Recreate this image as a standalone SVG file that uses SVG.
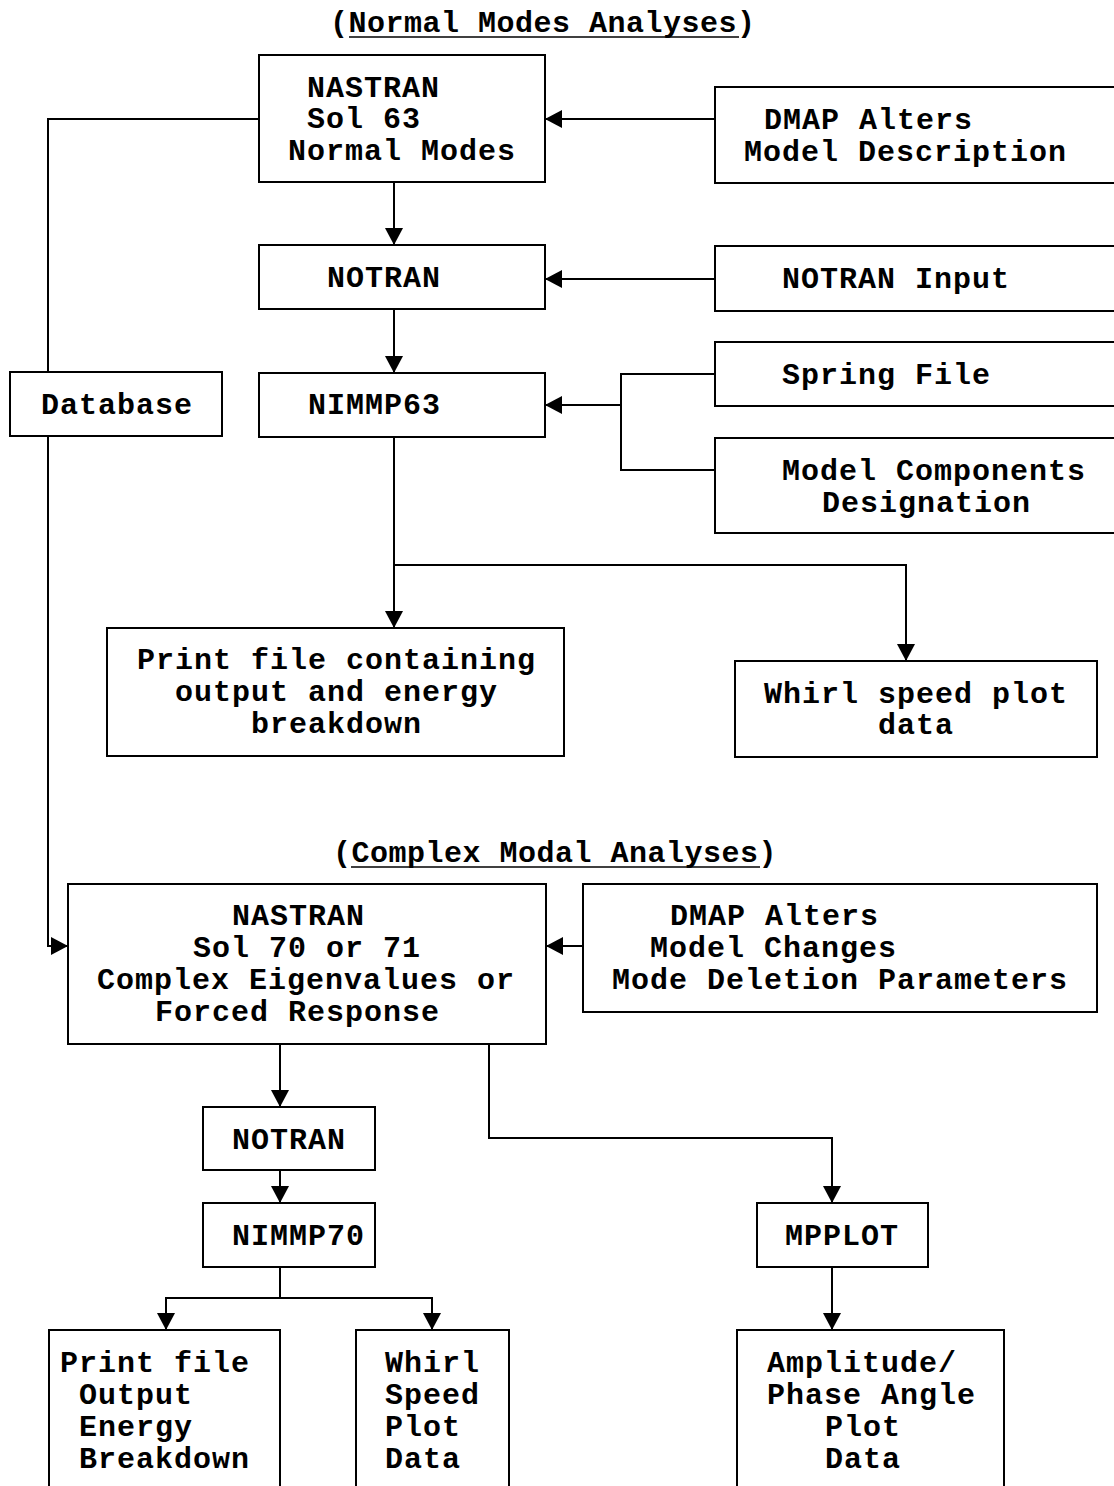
<svg xmlns="http://www.w3.org/2000/svg" width="1114" height="1486" viewBox="0 0 1114 1486">
<defs>
<marker id="ah" markerWidth="18" markerHeight="18" refX="17" refY="9" orient="auto" markerUnits="userSpaceOnUse">
<path d="M0,0 L17,9 L0,18 Z" fill="#000"/>
</marker>
<style>
.box{fill:#fff;stroke:#000;stroke-width:2}
.t{font-family:"Liberation Mono","Courier New",monospace;font-weight:bold;font-size:30px;letter-spacing:1px;fill:#000}
.tt{letter-spacing:0.5px}
.c{fill:none;stroke:#000;stroke-width:2}
.ul{stroke:#000;stroke-width:1.5}
</style>
</defs>
<rect width="1114" height="1486" fill="#fff"/>

<g id="titles">
<text class="t tt" x="330" y="32">(Normal Modes Analyses)</text>
<line class="ul" x1="349" y1="37" x2="739" y2="37"/>
<text class="t tt" x="333" y="862">(Complex Modal Analyses)</text>
<line class="ul" x1="351" y1="867" x2="760" y2="867"/>
</g>

<g id="connectors">
<path class="c" d="M715,119 H545" marker-end="url(#ah)"/>
<path class="c" d="M394,182 V245" marker-end="url(#ah)"/>
<path class="c" d="M715,279 H545" marker-end="url(#ah)"/>
<path class="c" d="M394,309 V373" marker-end="url(#ah)"/>
<path class="c" d="M715,374 H621 V470 H715"/>
<path class="c" d="M621,405 H545" marker-end="url(#ah)"/>
<path class="c" d="M259,119 H48 V372"/>
<path class="c" d="M48,436 V946 H68" marker-end="url(#ah)"/>
<path class="c" d="M394,437 V628" marker-end="url(#ah)"/>
<path class="c" d="M394,565 H906 V661" marker-end="url(#ah)"/>
<path class="c" d="M583,946 H546" marker-end="url(#ah)"/>
<path class="c" d="M280,1044 V1107" marker-end="url(#ah)"/>
<path class="c" d="M280,1170 V1203" marker-end="url(#ah)"/>
<path class="c" d="M280,1267 V1298"/>
<path class="c" d="M280,1298 H166 V1330" marker-end="url(#ah)"/>
<path class="c" d="M280,1298 H432 V1330" marker-end="url(#ah)"/>
<path class="c" d="M489,1044 V1138 H832 V1203" marker-end="url(#ah)"/>
<path class="c" d="M832,1267 V1330" marker-end="url(#ah)"/>
</g>

<g id="nastran63">
<rect class="box" x="259" y="55" width="286" height="127"/>
<text class="t" x="307" y="97">NASTRAN</text>
<text class="t" x="307" y="128">Sol 63</text>
<text class="t" x="288" y="160">Normal Modes</text>
</g>
<g id="dmap1">
<rect class="box" x="715" y="87" width="410" height="96"/>
<text class="t" x="764" y="129">DMAP Alters</text>
<text class="t" x="744" y="161">Model Description</text>
</g>
<g id="notran1">
<rect class="box" x="259" y="245" width="286" height="64"/>
<text class="t" x="327" y="287">NOTRAN</text>
</g>
<g id="notranInput">
<rect class="box" x="715" y="246" width="410" height="65"/>
<text class="t" x="782" y="288">NOTRAN Input</text>
</g>
<g id="nimmp63">
<rect class="box" x="259" y="373" width="286" height="64"/>
<text class="t" x="308" y="414">NIMMP63</text>
</g>
<g id="springFile">
<rect class="box" x="715" y="342" width="410" height="64"/>
<text class="t" x="782" y="384">Spring File</text>
</g>
<g id="modelComponents">
<rect class="box" x="715" y="438" width="410" height="95"/>
<text class="t" x="782" y="480">Model Components</text>
<text class="t" x="822" y="512">Designation</text>
</g>
<g id="database">
<rect class="box" x="10" y="372" width="212" height="64"/>
<text class="t" x="41" y="414">Database</text>
</g>
<g id="printFile1">
<rect class="box" x="107" y="628" width="457" height="128"/>
<text class="t" x="137" y="669">Print file containing</text>
<text class="t" x="175" y="701">output and energy</text>
<text class="t" x="251" y="733">breakdown</text>
</g>
<g id="whirl1">
<rect class="box" x="735" y="661" width="362" height="96"/>
<text class="t" x="764" y="703">Whirl speed plot</text>
<text class="t" x="878" y="734">data</text>
</g>
<g id="nastran70">
<rect class="box" x="68" y="884" width="478" height="160"/>
<text class="t" x="232" y="925">NASTRAN</text>
<text class="t" x="193" y="957">Sol 70 or 71</text>
<text class="t" x="97" y="989">Complex Eigenvalues or</text>
<text class="t" x="155" y="1021">Forced Response</text>
</g>
<g id="dmap2">
<rect class="box" x="583" y="884" width="514" height="128"/>
<text class="t" x="670" y="925">DMAP Alters</text>
<text class="t" x="650" y="957">Model Changes</text>
<text class="t" x="612" y="989">Mode Deletion Parameters</text>
</g>
<g id="notran2">
<rect class="box" x="203" y="1107" width="172" height="63"/>
<text class="t" x="232" y="1149">NOTRAN</text>
</g>
<g id="nimmp70">
<rect class="box" x="203" y="1203" width="172" height="64"/>
<text class="t" x="232" y="1245">NIMMP70</text>
</g>
<g id="mpplot">
<rect class="box" x="757" y="1203" width="171" height="64"/>
<text class="t" x="785" y="1245">MPPLOT</text>
</g>
<g id="printFile2">
<rect class="box" x="49" y="1330" width="231" height="170"/>
<text class="t" x="60" y="1372">Print file</text>
<text class="t" x="79" y="1404">Output</text>
<text class="t" x="79" y="1436">Energy</text>
<text class="t" x="79" y="1468">Breakdown</text>
</g>
<g id="whirl2">
<rect class="box" x="356" y="1330" width="153" height="170"/>
<text class="t" x="385" y="1372">Whirl</text>
<text class="t" x="385" y="1404">Speed</text>
<text class="t" x="385" y="1436">Plot</text>
<text class="t" x="385" y="1468">Data</text>
</g>
<g id="amplitude">
<rect class="box" x="737" y="1330" width="267" height="170"/>
<text class="t" x="767" y="1372">Amplitude/</text>
<text class="t" x="767" y="1404">Phase Angle</text>
<text class="t" x="825" y="1436">Plot</text>
<text class="t" x="825" y="1468">Data</text>
</g>
</svg>
